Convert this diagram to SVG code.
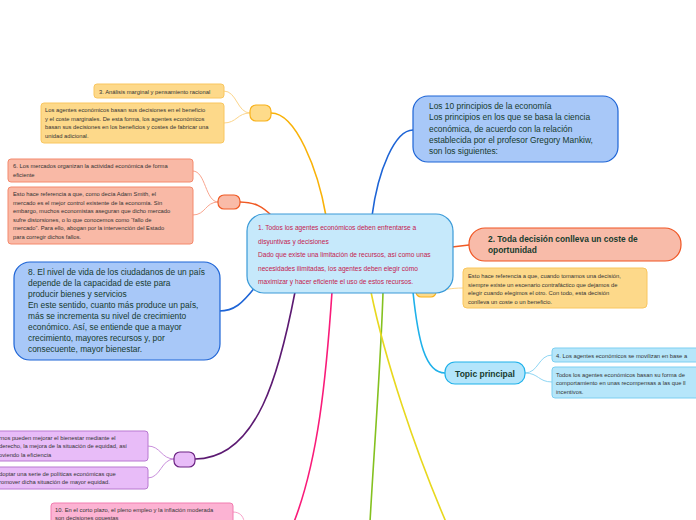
<svg xmlns="http://www.w3.org/2000/svg" width="696" height="520" viewBox="0 0 696 520">
<style>
text{font-family:"Liberation Sans",Arial,sans-serif;}
.c{fill:none;stroke-linecap:round;}
.thick{stroke-width:1.6;}
.thin{stroke-width:1;}
.note{font-size:5.8px;fill:#333333;}
.big{font-size:8.4px;fill:#173b2e;}
.ctr{font-size:6.6px;fill:#c41a4f;}
.blob-y{fill:#fedb8a;stroke:#f8b21b;stroke-width:1.2;}
.note-y{fill:#fdd98a;stroke:#f9c65f;stroke-width:1;}
.blob-o{fill:#f9bba8;stroke:#f05a24;stroke-width:1.2;}
.note-o{fill:#f9b9a6;stroke:#f4896c;stroke-width:1;}
.blue{fill:#a8c8f8;stroke:#1d64d6;stroke-width:1.2;}
.note-c{fill:#b6e6fa;stroke:#7ccff1;stroke-width:1;}
.blob-p{fill:#e8bcf8;stroke:#6c2384;stroke-width:1.2;}
.note-p{fill:#e8bcf8;stroke:#b879d1;stroke-width:1;}
.note-k{fill:#fcb3d3;stroke:#f27cb0;stroke-width:1;}
</style>
<rect width="696" height="520" fill="#ffffff"/>
<g id="connectors">
<path class="c thick" stroke="#f9b208" d="M271,113 C296,113 318,170 326,216"/>
<path class="c thick" stroke="#1d64d6" d="M372,216 C378,170 395,130 413,130"/>
<path class="c thick" stroke="#f05a24" d="M240,202 C255,202 263,207 272,216"/>
<path class="c thick" stroke="#f05a24" d="M452,247 L469,245"/>
<path class="c thick" stroke="#1d64d6" d="M256,286 C242,304 234,311 219,311"/>
<path class="c thick" stroke="#5c1a72" d="M295,292 C280,370 258,459 195,459"/>
<path class="c thick" stroke="#f91b79" d="M332,292 C326,380 318,460 294,522"/>
<path class="c thick" stroke="#84c11f" d="M383,292 C381,360 374,450 370,522"/>
<path class="c thick" stroke="#e8d81e" d="M371,292 C385,360 415,450 446,522"/>
<path class="c thick" stroke="#1fb1ea" d="M413,292 C418,340 425,373 445,373"/>
<path class="c thin" stroke="#fcd58a" d="M250,113 C237,113 237,91 224,91"/>
<path class="c thin" stroke="#fcd58a" d="M250,113 C237,113 237,123 224,123"/>
<path class="c thin" stroke="#f9a58e" d="M218,202 C205,202 206,171 193,171"/>
<path class="c thin" stroke="#f9a58e" d="M218,202 C205,202 206,215 193,215"/>
<path class="c thin" stroke="#c98fdc" d="M174,459 C161,459 161,446 148,446"/>
<path class="c thin" stroke="#c98fdc" d="M174,459 C161,459 161,478 148,478"/>
<path class="c thin" stroke="#8fd6f4" d="M525,373 C539,373 538,355 552,355"/>
<path class="c thin" stroke="#8fd6f4" d="M525,373 C539,373 538,382 552,382"/>
<path class="c thin" stroke="#fcd58a" d="M435,290 C449,290 449,288 463,288"/>
<path class="c thin" stroke="#f7a0c8" d="M233,512 C240,512 243,516 244,521"/>
</g>
<g id="blob-yellow-top"><rect class="blob-y" x="250" y="105" width="21" height="16" rx="6"/></g>
<g id="note-3"><rect class="note-y" x="94" y="84" width="130" height="14" rx="3"/><text class="note" x="99" y="93.5">3. Análisis marginal y pensamiento racional</text></g>
<g id="note-3b"><rect class="note-y" x="41" y="103" width="183" height="40" rx="3"/><text class="note"><tspan x="45" y="112">Los agentes económicos basan sus decisiones en el beneficio</tspan><tspan x="45" y="120.5">y el coste marginales. De esta forma, los agentes económicos</tspan><tspan x="45" y="129">basan sus decisiones en los beneficios y costes de fabricar una</tspan><tspan x="45" y="137.5">unidad adicional.</tspan></text></g>
<g id="blob-orange"><rect class="blob-o" x="218" y="195" width="22" height="14" rx="6"/></g>
<g id="note-6"><rect class="note-o" x="8" y="159" width="185" height="23" rx="3"/><text class="note"><tspan x="13" y="168">6. Los mercados organizan la actividad económica de forma</tspan><tspan x="13" y="176.5">eficiente</tspan></text></g>
<g id="note-6b"><rect class="note-o" x="8" y="187" width="185" height="57" rx="3"/><text class="note"><tspan x="13" y="196">Esto hace referencia a que, como decía Adam Smith, el</tspan><tspan x="13" y="204.5">mercado es el mejor control existente de la economía. Sin</tspan><tspan x="13" y="213">embargo, muchos economistas aseguran que dicho mercado</tspan><tspan x="13" y="221.5">sufre distorsiones, o lo que conocemos como “fallo de</tspan><tspan x="13" y="230">mercado”. Para ello, abogan por la intervención del Estado</tspan><tspan x="13" y="238.5">para corregir dichos fallos.</tspan></text></g>
<g id="node-10"><rect class="blue" x="413" y="96" width="205" height="66" rx="15"/><text class="big"><tspan x="429" y="109">Los 10 principios de la economía</tspan><tspan x="429" y="120.3">Los principios en los que se basa la ciencia</tspan><tspan x="429" y="131.6">económica, de acuerdo con la relación</tspan><tspan x="429" y="142.9">establecida por el profesor Gregory Mankiw,</tspan><tspan x="429" y="154.2">son los siguientes:</tspan></text></g>
<g id="blob-yellow-hidden"><rect class="blob-y" x="416" y="285" width="20" height="12" rx="5"/></g>
<g id="central"><rect x="247" y="214" width="206" height="79" rx="17" fill="#c6e9fb" stroke="#3a9ad8" stroke-width="1.2"/><text class="ctr"><tspan x="258" y="230">1. Todos los agentes económicos deben enfrentarse a</tspan><tspan x="258" y="243.5">disyuntivas y decisiones</tspan><tspan x="258" y="257">Dado que existe una limitación de recursos, así como unas</tspan><tspan x="258" y="270.5">necesidades ilimitadas, los agentes deben elegir cómo</tspan><tspan x="258" y="284">maximizar y hacer eficiente el uso de estos recursos.</tspan></text></g>
<g id="node-2"><rect x="469" y="228" width="212" height="33" rx="16" fill="#f8bba9" stroke="#f05523" stroke-width="1.2"/><text class="big" font-weight="bold" font-size="7.6"><tspan x="488" y="242">2. Toda decisión conlleva un coste de</tspan><tspan x="488" y="253">oportunidad</tspan></text></g>
<g id="note-2b"><rect class="note-y" x="463" y="268" width="184" height="40" rx="4"/><text class="note"><tspan x="468" y="278">Esto hace referencia a que, cuando tomamos una decisión,</tspan><tspan x="468" y="286.5">siempre existe un escenario contrafáctico que dejamos de</tspan><tspan x="468" y="295">elegir cuando elegimos el otro. Con todo, esta decisión</tspan><tspan x="468" y="303.5">conlleva un coste o un beneficio.</tspan></text></g>
<g id="node-8"><rect class="blue" x="14" y="262" width="206" height="98" rx="16"/><text class="big" font-size="8.7"><tspan x="28" y="275">8. El nivel de vida de los ciudadanos de un país</tspan><tspan x="28" y="286">depende de la capacidad de este para</tspan><tspan x="28" y="297">producir bienes y servicios</tspan><tspan x="28" y="308">En este sentido, cuanto más produce un país,</tspan><tspan x="28" y="319">más se incrementa su nivel de crecimiento</tspan><tspan x="28" y="330">económico. Así, se entiende que a mayor</tspan><tspan x="28" y="341">crecimiento, mayores recursos y, por</tspan><tspan x="28" y="352">consecuente, mayor bienestar.</tspan></text></g>
<g id="topic"><rect x="445" y="362" width="80" height="22" rx="10" fill="#b3e5fb" stroke="#1fb1ea" stroke-width="1.2"/><text x="485" y="376.5" text-anchor="middle" font-size="8.5" font-weight="bold" fill="#173b2e">Topic principal</text></g>
<g id="note-4"><rect class="note-c" x="552" y="348" width="160" height="14" rx="3"/><text class="note" x="556" y="357.5">4. Los agentes económicos se movilizan en base a</text></g>
<g id="note-4b"><rect class="note-c" x="552" y="367" width="160" height="31" rx="3"/><text class="note"><tspan x="556" y="376.5">Todos los agentes económicos basan su forma de</tspan><tspan x="556" y="385">comportamiento en unas recompensas a las que ll</tspan><tspan x="556" y="393.5">incentivos.</tspan></text></g>
<g id="blob-purple"><rect class="blob-p" x="174" y="452" width="21" height="15" rx="6"/></g>
<g id="note-7"><rect class="note-p" x="-10" y="431" width="158" height="30" rx="3"/><text class="note"><tspan x="-1" y="439.5">rnos pueden mejorar el bienestar mediante el</tspan><tspan x="-1" y="448">derecho, la mejora de la situación de equidad, así</tspan><tspan x="-1" y="456.5">oviendo la eficiencia</tspan></text></g>
<g id="note-7b"><rect class="note-p" x="-10" y="467" width="158" height="22" rx="3"/><text class="note"><tspan x="-1" y="475.5">doptar una serie de políticas económicas que</tspan><tspan x="-1" y="484">romover dicha situación de mayor equidad.</tspan></text></g>
<g id="note-10"><rect class="note-k" x="51" y="503" width="182" height="24" rx="3"/><text class="note"><tspan x="55" y="511.5">10. En el corto plazo, el pleno empleo y la inflación moderada</tspan><tspan x="55" y="520">son decisiones opuestas</tspan></text></g>
</svg>
